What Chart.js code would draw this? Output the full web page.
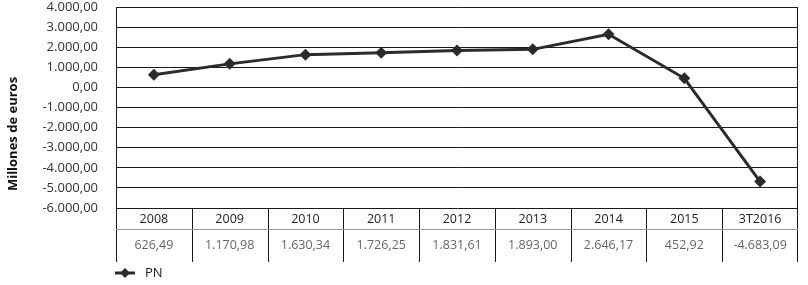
<!DOCTYPE html>
<html>
<head>
<meta charset="utf-8">
<script src="https://cdn.jsdelivr.net/npm/chart.js@4.4.1/dist/chart.umd.min.js"></script>
<style>
  html, body { margin: 0; padding: 0; background: #fff; }
  #wrap { width: 808px; height: 285px; position: relative; }
</style>
</head>
<body>
<div id="wrap"><canvas id="grafico"></canvas></div>
<script>
const categorias = ['2008', '2009', '2010', '2011', '2012', '2013', '2014', '2015', '3T2016'];
const valoresPN = [626.49, 1170.98, 1630.34, 1726.25, 1831.61, 1893.00, 2646.17, 452.92, -4683.09];
const ejeMin = -6000;
const ejeMax = 4000;
const ejePaso = 1000;
const tituloEje = 'Millones de euros';

function formatoEs(v) {
    const neg = v < 0;
    const partes = Math.abs(v).toFixed(2).split('.');
    const entero = partes[0].replace(/\B(?=(\d{3})+(?!\d))/g, '.');
    return (neg ? '-' : '') + entero + ',' + partes[1];
}

const fuente = '"Open Sans", "Noto Sans", sans-serif';

// tabla de datos bajo el eje, título del eje Y y leyenda
const pluginTabla = {
    id: 'tablaDatos',
    afterDraw(chart) {
        const ctx = chart.ctx;
        const area = chart.chartArea;
        const x = chart.scales.x;
        const n = categorias.length;
        const ancho = (area.right - area.left) / n;
        const filaCat = area.bottom + 21;
        const filaFin = area.bottom + 54;

        ctx.save();
        ctx.strokeStyle = '#1a1a1a';
        ctx.lineWidth = 1;
        ctx.beginPath();
        ctx.moveTo(area.right - 0.5, area.top);
        ctx.lineTo(area.right - 0.5, area.bottom);
        ctx.stroke();

        ctx.beginPath();
        for (let i = 0; i <= n; i++) {
            let px = Math.round(area.left + i * ancho) + 0.5;
            if (i === n) px = area.right - 0.5;
            ctx.moveTo(px, area.bottom);
            ctx.lineTo(px, filaFin);
        }
        ctx.stroke();

        ctx.strokeStyle = '#9a9a9a';
        ctx.beginPath();
        ctx.moveTo(area.left, filaCat + 0.5);
        ctx.lineTo(area.right, filaCat + 0.5);
        ctx.stroke();

        ctx.textAlign = 'center';
        ctx.textBaseline = 'middle';
        categorias.forEach((c, i) => {
            const cx = x.getPixelForValue(i);
            ctx.fillStyle = '#222';
            ctx.font = '12.5px ' + fuente;
            ctx.fillText(c, cx, area.bottom + 11);
            ctx.fillStyle = '#666';
            ctx.fillText(formatoEs(valoresPN[i]), cx, filaCat + 16);
        });

        ctx.save();
        ctx.translate(13, 134);
        ctx.rotate(-Math.PI / 2);
        ctx.fillStyle = '#111';
        ctx.font = 'bold 13px ' + fuente;
        ctx.fillText(tituloEje, 0, 0);
        ctx.restore();

        const ds = chart.data.datasets[0];
        const ly = 273;
        ctx.strokeStyle = ds.borderColor;
        ctx.lineWidth = 3;
        ctx.beginPath();
        ctx.moveTo(115, ly);
        ctx.lineTo(135, ly);
        ctx.stroke();
        ctx.fillStyle = ds.borderColor;
        ctx.beginPath();
        ctx.moveTo(125, ly - 5);
        ctx.lineTo(130, ly);
        ctx.lineTo(125, ly + 5);
        ctx.lineTo(120, ly);
        ctx.closePath();
        ctx.fill();
        ctx.fillStyle = '#222';
        ctx.textAlign = 'left';
        ctx.font = '13px ' + fuente;
        ctx.fillText(ds.label, 145, ly);
        ctx.restore();
    }
};

new Chart(document.getElementById('grafico'), {
    type: 'line',
    data: {
        labels: categorias,
        datasets: [{
            label: 'PN',
            data: valoresPN,
            borderColor: '#2b2b2b',
            backgroundColor: '#2b2b2b',
            borderWidth: 3,
            tension: 0,
            pointStyle: 'rectRot',
            pointRadius: 6,
            pointHoverRadius: 6,
            pointBorderWidth: 0
        }]
    },
    options: {
        responsive: true,
        maintainAspectRatio: false,
        animation: false,
        layout: { padding: { top: 7, right: 10, bottom: 77, left: 0 } },
        plugins: {
            legend: { display: false },
            tooltip: { enabled: false }
        },
        scales: {
            x: {
                display: false,
                offset: true
            },
            y: {
                min: ejeMin,
                max: ejeMax,
                afterFit: s => {
                    s.width = 116;
                    s.paddingTop = 0;
                    s.paddingBottom = 0;
                },
                border: { display: true, color: '#1a1a1a', width: 1 },
                grid: { color: '#1a1a1a', lineWidth: 1, drawTicks: false },
                ticks: {
                    stepSize: ejePaso,
                    padding: 18,
                    color: '#333',
                    font: { family: fuente, size: 13 },
                    callback: v => formatoEs(v)
                }
            }
        }
    },
    plugins: [pluginTabla]
});
</script>
</body>
</html>
